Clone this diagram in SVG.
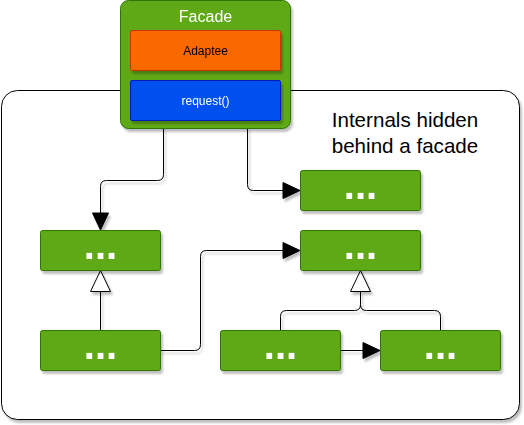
<svg xmlns="http://www.w3.org/2000/svg" width="524" height="425" viewBox="0 0 524 425">
<defs>
<filter id="sh" x="-10%" y="-10%" width="130%" height="130%">
<feGaussianBlur in="SourceAlpha" stdDeviation="0.8"/>
<feOffset dx="2" dy="3" result="o"/>
<feFlood flood-color="#000" flood-opacity="0.25"/>
<feComposite in2="o" operator="in"/>
<feMerge><feMergeNode/><feMergeNode in="SourceGraphic"/></feMerge>
</filter>
<style>
.g{fill:#60A917;stroke:#2D7600;stroke-width:1}
.dots{font-family:"Liberation Sans",Arial,sans-serif;font-size:40px;font-weight:bold;fill:#fff;text-anchor:middle}
.c{fill:none;stroke:#000;stroke-width:1}
.ah{fill:#000;stroke:#000;stroke-width:1}
.ho{fill:#fff;stroke:#000;stroke-width:1}
.lbl{font-family:"Liberation Sans",Arial,sans-serif;text-anchor:middle}
</style>
</defs>
<g id="container" filter="url(#sh)">
<rect x="1.5" y="90.5" width="518" height="329" rx="16" ry="16" fill="#fff" stroke="#000"/>
</g>
<g id="note">
<text class="lbl" x="405" y="127" font-size="20.6" fill="#000">Internals hidden</text>
<text class="lbl" x="405" y="153" font-size="20.6" fill="#000">behind a facade</text>
</g>
<g id="connectors" filter="url(#sh)">
<path class="c" d="M163.5 128 V174.5 Q163.5 180.5 157.5 180.5 H106.5 Q100.5 180.5 100.5 186.5 V213"/>
<polygon class="ah" points="100.5,230 92.5,213 108.5,213"/>
<path class="c" d="M247.5 128 V184.5 Q247.5 190.5 253.5 190.5 H283"/>
<polygon class="ah" points="300,190.5 283,182.5 283,198.5"/>
<path class="c" d="M160 350.5 H194.5 Q200.5 350.5 200.5 344.5 V256.5 Q200.5 250.5 206.5 250.5 H283"/>
<polygon class="ah" points="300,250.5 283,242.5 283,258.5"/>
<path class="c" d="M100.5 330 V291.5"/>
<polygon class="ho" points="100.5,270.5 90.5,291.5 110.5,291.5"/>
<path class="c" d="M280.5 330 V316.5 Q280.5 310.5 286.5 310.5 H354.5 Q360.5 310.5 360.5 304.5 V291.5 M440.5 330 V316.5 Q440.5 310.5 434.5 310.5 H366.5 Q360.5 310.5 360.5 304.5"/>
<polygon class="ho" points="360.5,270.5 350.5,291.5 370.5,291.5"/>
<path class="c" d="M340 350.5 H363"/>
<polygon class="ah" points="380,350.5 363,342.5 363,358.5"/>
</g>
<g id="facade" filter="url(#sh)">
<rect x="120.5" y="0.5" width="170" height="128" rx="8" ry="8" fill="#60A917" stroke="#2D7600"/>
<text class="lbl" x="205.5" y="21.5" font-size="16" fill="#fff">Facade</text>
</g>
<g id="adaptee" filter="url(#sh)">
<rect x="130.5" y="30.5" width="150" height="40" rx="1.5" fill="#FA6800" stroke="#C73500"/>
<text class="lbl" x="205.5" y="55" font-size="12" fill="#000">Adaptee</text>
</g>
<g id="request" filter="url(#sh)">
<rect x="130.5" y="80.5" width="150" height="40" rx="1.5" fill="#0050EF" stroke="#001DBC"/>
<text class="lbl" x="205.5" y="105" font-size="12" fill="#fff">request()</text>
</g>
<g id="boxA" filter="url(#sh)"><rect class="g" x="40.5" y="230.5" width="120" height="40" rx="2"/><text class="dots" x="100.5" y="258.5">...</text></g>
<g id="boxB" filter="url(#sh)"><rect class="g" x="40.5" y="330.5" width="120" height="40" rx="2"/><text class="dots" x="100.5" y="358.5">...</text></g>
<g id="boxC" filter="url(#sh)"><rect class="g" x="300.5" y="170.5" width="120" height="40" rx="2"/><text class="dots" x="360.5" y="198.5">...</text></g>
<g id="boxD" filter="url(#sh)"><rect class="g" x="300.5" y="230.5" width="120" height="40" rx="2"/><text class="dots" x="360.5" y="258.5">...</text></g>
<g id="boxE" filter="url(#sh)"><rect class="g" x="220.5" y="330.5" width="120" height="40" rx="2"/><text class="dots" x="280.5" y="358.5">...</text></g>
<g id="boxF" filter="url(#sh)"><rect class="g" x="380.5" y="330.5" width="120" height="40" rx="2"/><text class="dots" x="440.5" y="358.5">...</text></g>
</svg>
